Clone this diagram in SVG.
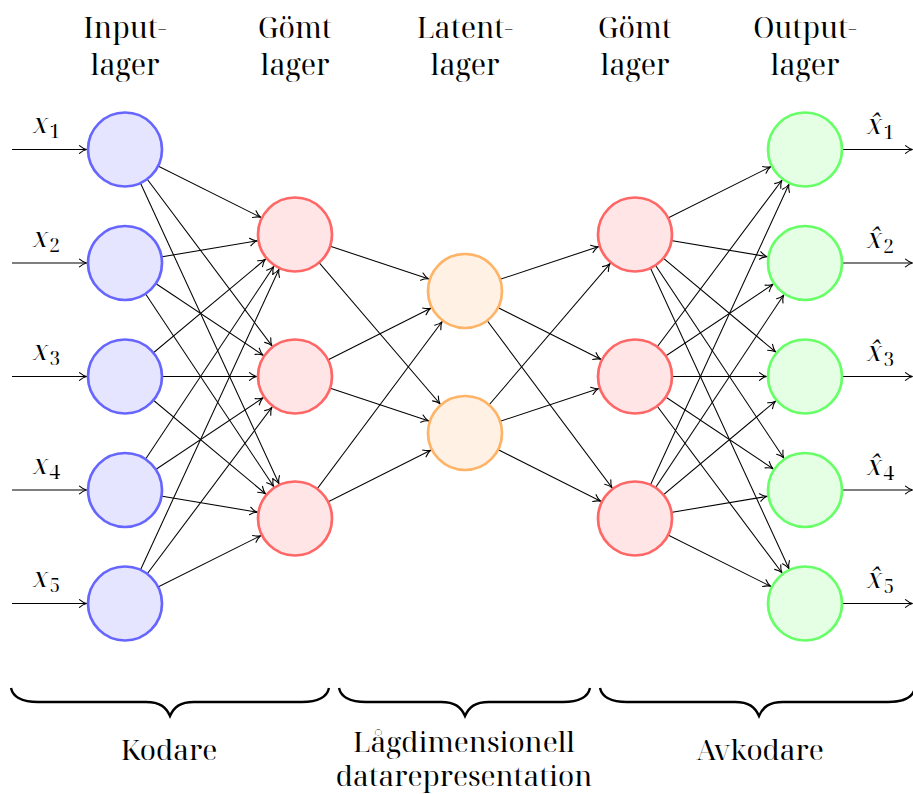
<svg xmlns="http://www.w3.org/2000/svg" width="913" height="794" viewBox="0 0 913 794">
  <style>
    .txt { font-family: 'Noto Serif Display', 'Source Serif Pro', serif; fill: #000; }
    .title { font-size: 28.5px; text-anchor: middle; }
    .cap { font-size: 28px; text-anchor: middle; }
    .mx { font-size: 28px; font-style: italic; }
    .sub { font-size: 19px; font-style: normal; }
    .edges line { stroke: #000; stroke-width: 1.05; fill: none; }
    .e { marker-end: url(#tipR); }
    .io { marker-end: url(#tip0); }
    .node circle { stroke-width: 2.7; }
    .in circle { fill: #e5e5ff; stroke: #6666ff; }
    .hid circle { fill: #ffe5e5; stroke: #ff6666; }
    .lat circle { fill: #fff2e5; stroke: #ffb366; }
    .out circle { fill: #e5ffe5; stroke: #66ff66; }
    .brace { fill: none; stroke: #000; stroke-width: 2.4; }
  </style>
  <defs>
    <!-- arrow tip placed on the rim of a node (r = 38.5) when the line ends at its centre -->
    <marker id="tipR" markerUnits="userSpaceOnUse" orient="auto" refX="38.5" refY="0" markerWidth="1" markerHeight="1" overflow="visible">
      <path d="M -7,-3.8 C -5,-2.1 -2.6,-0.6 0,0 C -2.6,0.6 -5,2.1 -7,3.8" fill="none" stroke="#000" stroke-width="1.1" stroke-linecap="round"/>
    </marker>
    <!-- arrow tip at the line end -->
    <marker id="tip0" markerUnits="userSpaceOnUse" orient="auto" refX="0" refY="0" markerWidth="1" markerHeight="1" overflow="visible">
      <path d="M -7,-3.8 C -5,-2.1 -2.6,-0.6 0,0 C -2.6,0.6 -5,2.1 -7,3.8" fill="none" stroke="#000" stroke-width="1.1" stroke-linecap="round"/>
    </marker>
  </defs>

  <rect width="913" height="794" fill="#fff"/>

  <!-- layer titles -->
  <g id="titles" class="txt title">
    <text x="125" y="38">Input-</text><text x="125" y="75">lager</text>
    <text x="295" y="38">Gömt</text><text x="295" y="75">lager</text>
    <text x="465" y="38">Latent-</text><text x="465" y="75">lager</text>
    <text x="635" y="38">Gömt</text><text x="635" y="75">lager</text>
    <text x="805" y="38">Output-</text><text x="805" y="75">lager</text>
  </g>

  <!-- connectors -->
  <g id="connectors" class="edges">
    <!-- inputs -->
    <line class="e" x1="12" y1="149.5" x2="125" y2="149.5"/>
    <line class="e" x1="12" y1="263" x2="125" y2="263"/>
    <line class="e" x1="12" y1="376.5" x2="125" y2="376.5"/>
    <line class="e" x1="12" y1="490" x2="125" y2="490"/>
    <line class="e" x1="12" y1="603.5" x2="125" y2="603.5"/>
    <!-- input layer -> hidden layer 1 -->
    <line class="e" x1="125" y1="149.5" x2="295" y2="234.5"/>
    <line class="e" x1="125" y1="149.5" x2="295" y2="376.5"/>
    <line class="e" x1="125" y1="149.5" x2="295" y2="518.5"/>
    <line class="e" x1="125" y1="263" x2="295" y2="234.5"/>
    <line class="e" x1="125" y1="263" x2="295" y2="376.5"/>
    <line class="e" x1="125" y1="263" x2="295" y2="518.5"/>
    <line class="e" x1="125" y1="376.5" x2="295" y2="234.5"/>
    <line class="e" x1="125" y1="376.5" x2="295" y2="376.5"/>
    <line class="e" x1="125" y1="376.5" x2="295" y2="518.5"/>
    <line class="e" x1="125" y1="490" x2="295" y2="234.5"/>
    <line class="e" x1="125" y1="490" x2="295" y2="376.5"/>
    <line class="e" x1="125" y1="490" x2="295" y2="518.5"/>
    <line class="e" x1="125" y1="603.5" x2="295" y2="234.5"/>
    <line class="e" x1="125" y1="603.5" x2="295" y2="376.5"/>
    <line class="e" x1="125" y1="603.5" x2="295" y2="518.5"/>
    <!-- hidden layer 1 -> latent layer -->
    <line class="e" x1="295" y1="234.5" x2="465" y2="291"/>
    <line class="e" x1="295" y1="234.5" x2="465" y2="433"/>
    <line class="e" x1="295" y1="376.5" x2="465" y2="291"/>
    <line class="e" x1="295" y1="376.5" x2="465" y2="433"/>
    <line class="e" x1="295" y1="518.5" x2="465" y2="291"/>
    <line class="e" x1="295" y1="518.5" x2="465" y2="433"/>
    <!-- latent layer -> hidden layer 2 -->
    <line class="e" x1="465" y1="291" x2="635" y2="234.5"/>
    <line class="e" x1="465" y1="291" x2="635" y2="376.5"/>
    <line class="e" x1="465" y1="291" x2="635" y2="518.5"/>
    <line class="e" x1="465" y1="433" x2="635" y2="234.5"/>
    <line class="e" x1="465" y1="433" x2="635" y2="376.5"/>
    <line class="e" x1="465" y1="433" x2="635" y2="518.5"/>
    <!-- hidden layer 2 -> output layer -->
    <line class="e" x1="635" y1="234.5" x2="805" y2="149.5"/>
    <line class="e" x1="635" y1="234.5" x2="805" y2="263"/>
    <line class="e" x1="635" y1="234.5" x2="805" y2="376.5"/>
    <line class="e" x1="635" y1="234.5" x2="805" y2="490"/>
    <line class="e" x1="635" y1="234.5" x2="805" y2="603.5"/>
    <line class="e" x1="635" y1="376.5" x2="805" y2="149.5"/>
    <line class="e" x1="635" y1="376.5" x2="805" y2="263"/>
    <line class="e" x1="635" y1="376.5" x2="805" y2="376.5"/>
    <line class="e" x1="635" y1="376.5" x2="805" y2="490"/>
    <line class="e" x1="635" y1="376.5" x2="805" y2="603.5"/>
    <line class="e" x1="635" y1="518.5" x2="805" y2="149.5"/>
    <line class="e" x1="635" y1="518.5" x2="805" y2="263"/>
    <line class="e" x1="635" y1="518.5" x2="805" y2="376.5"/>
    <line class="e" x1="635" y1="518.5" x2="805" y2="490"/>
    <line class="e" x1="635" y1="518.5" x2="805" y2="603.5"/>
    <!-- outputs -->
    <line class="io" x1="805" y1="149.5" x2="912.5" y2="149.5"/>
    <line class="io" x1="805" y1="263" x2="912.5" y2="263"/>
    <line class="io" x1="805" y1="376.5" x2="912.5" y2="376.5"/>
    <line class="io" x1="805" y1="490" x2="912.5" y2="490"/>
    <line class="io" x1="805" y1="603.5" x2="912.5" y2="603.5"/>
  </g>

  <!-- input layer -->
  <g id="in1" class="node in"><circle cx="125" cy="149.5" r="37"/></g>
  <g id="in2" class="node in"><circle cx="125" cy="263" r="37"/></g>
  <g id="in3" class="node in"><circle cx="125" cy="376.5" r="37"/></g>
  <g id="in4" class="node in"><circle cx="125" cy="490" r="37"/></g>
  <g id="in5" class="node in"><circle cx="125" cy="603.5" r="37"/></g>
  <!-- hidden layer 1 -->
  <g id="h1a" class="node hid"><circle cx="295" cy="234.5" r="37"/></g>
  <g id="h1b" class="node hid"><circle cx="295" cy="376.5" r="37"/></g>
  <g id="h1c" class="node hid"><circle cx="295" cy="518.5" r="37"/></g>
  <!-- latent layer -->
  <g id="lat1" class="node lat"><circle cx="465" cy="291" r="37"/></g>
  <g id="lat2" class="node lat"><circle cx="465" cy="433" r="37"/></g>
  <!-- hidden layer 2 -->
  <g id="h2a" class="node hid"><circle cx="635" cy="234.5" r="37"/></g>
  <g id="h2b" class="node hid"><circle cx="635" cy="376.5" r="37"/></g>
  <g id="h2c" class="node hid"><circle cx="635" cy="518.5" r="37"/></g>
  <!-- output layer -->
  <g id="out1" class="node out"><circle cx="805" cy="149.5" r="37"/></g>
  <g id="out2" class="node out"><circle cx="805" cy="263" r="37"/></g>
  <g id="out3" class="node out"><circle cx="805" cy="376.5" r="37"/></g>
  <g id="out4" class="node out"><circle cx="805" cy="490" r="37"/></g>
  <g id="out5" class="node out"><circle cx="805" cy="603.5" r="37"/></g>

  <!-- input symbols -->
  <g id="in-labels" class="txt">
    <text class="mx" x="33" y="133">x<tspan class="sub" dx="1.5" dy="5">1</tspan></text>
    <text class="mx" x="33" y="246.5">x<tspan class="sub" dx="1.5" dy="5">2</tspan></text>
    <text class="mx" x="33" y="360">x<tspan class="sub" dx="1.5" dy="5">3</tspan></text>
    <text class="mx" x="33" y="473.5">x<tspan class="sub" dx="1.5" dy="5">4</tspan></text>
    <text class="mx" x="33" y="587">x<tspan class="sub" dx="1.5" dy="5">5</tspan></text>
  </g>

  <!-- output symbols (x with combining circumflex) -->
  <g id="out-labels" class="txt">
    <text class="mx" x="867" y="134">x̂<tspan class="sub" dx="1.5" dy="5">1</tspan></text>
    <text class="mx" x="867" y="247.5">x̂<tspan class="sub" dx="1.5" dy="5">2</tspan></text>
    <text class="mx" x="867" y="361">x̂<tspan class="sub" dx="1.5" dy="5">3</tspan></text>
    <text class="mx" x="867" y="474.5">x̂<tspan class="sub" dx="1.5" dy="5">4</tspan></text>
    <text class="mx" x="867" y="588">x̂<tspan class="sub" dx="1.5" dy="5">5</tspan></text>
  </g>

  <!-- braces grouping the layers -->
  <g id="braces">
    <path class="brace" d="M 11,688 C 13,697 22,702 38,702 L 146,702 C 160,702 166,707 170,716 C 174,707 180,702 194,702 L 302,702 C 318,702 327,697 329,688"/>
    <path class="brace" d="M 339,688 C 341,697 350,702 366,702 L 441,702 C 455,702 461,707 465,716 C 469,707 475,702 489,702 L 563,702 C 579,702 588,697 590,688"/>
    <path class="brace" d="M 600,688 C 602,697 611,702 627,702 L 735,702 C 749,702 755,707 759,716 C 763,707 769,702 783,702 L 888,702 C 904,702 913,697 915,688"/>
  </g>

  <!-- section captions -->
  <g id="captions" class="txt cap">
    <text x="169" y="760">Kodare</text>
    <text x="464" y="752">Lågdimensionell</text>
    <text x="464" y="786">datarepresentation</text>
    <text x="760" y="760">Avkodare</text>
  </g>
</svg>
